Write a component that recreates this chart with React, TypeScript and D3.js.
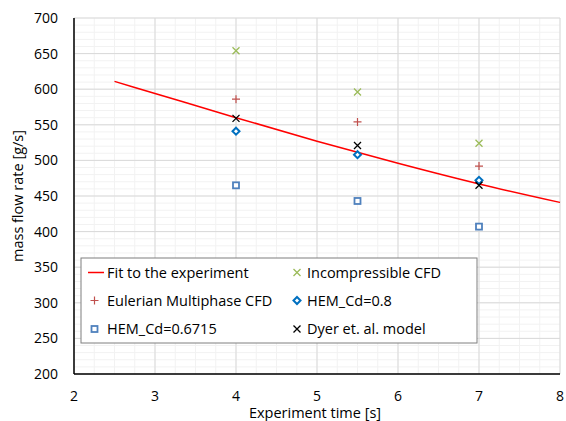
import React from 'react';
import * as d3 from 'd3';

const times = [4, 5.5, 7];
const incompressible = [654, 596, 524];
const eulerian = [586, 554, 492];
const hemCd08 = [541, 508, 472];
const hemCd06715 = [465, 443, 407];
const dyer = [559, 521, 465];

const fitX = [2.5, 3, 4, 5, 6, 7, 8];
const fitY = [611, 594, 560, 527, 496, 467, 441];

const xTicks = [2, 3, 4, 5, 6, 7, 8];
const yTicks = [200, 250, 300, 350, 400, 450, 500, 550, 600, 650, 700];

const W = 566;
const H = 421;
const margin = { top: 18, right: 6, bottom: 47, left: 74 };
const FONT = '"Open Sans", sans-serif';
const FS = 14.5;

function Cross({ x, y, color }: { x: number; y: number; color: string }) {
  const s = 3.5;
  return (
    <path d={`M${x - s},${y - s}L${x + s},${y + s}M${x - s},${y + s}L${x + s},${y - s}`}
      stroke={color} strokeWidth={1.3} fill="none" />
  );
}
function Plus({ x, y, color }: { x: number; y: number; color: string }) {
  const s = 4;
  return (
    <path d={`M${x - s},${y}L${x + s},${y}M${x},${y - s}L${x},${y + s}`}
      stroke={color} strokeWidth={1.2} fill="none" />
  );
}
function Diamond({ x, y, color }: { x: number; y: number; color: string }) {
  const s = 3.5;
  return (
    <path d={`M${x},${y - s}L${x + s},${y}L${x},${y + s}L${x - s},${y}Z`}
      stroke={color} strokeWidth={2} fill="#fff" />
  );
}
function Square({ x, y, color }: { x: number; y: number; color: string }) {
  const s = 3;
  return <rect x={x - s} y={y - s} width={2 * s} height={2 * s} stroke={color} strokeWidth={1.8} fill="#fff" />;
}

export default function App() {
  const x = d3.scaleLinear().domain([2, 8]).range([margin.left, W - margin.right]);
  const y = d3.scaleLinear().domain([200, 700]).range([H - margin.bottom, margin.top]);

  const minorX = d3.range(2, 8.001, 0.25);
  const minorY = d3.range(200, 700.001, 10);

  const line = d3.line<number>()
    .x((_, i) => x(fitX[i]))
    .y((d) => y(d))
    .curve(d3.curveMonotoneX);

  const series = [
    { vals: incompressible, M: Cross, color: '#9BBB59' },
    { vals: eulerian, M: Plus, color: '#C0504D' },
    { vals: hemCd08, M: Diamond, color: '#0070C0' },
    { vals: hemCd06715, M: Square, color: '#4F81BD' },
    { vals: dyer, M: Cross, color: '#000000' },
  ];

  const lg = { x: 81, y: 258, w: 396, h: 85 };
  const rows = [272.5, 300.5, 329];

  return (
    <svg width={W} height={H} style={{ position: 'absolute', left: 0, top: 0, fontFamily: FONT }}>
      <rect width={W} height={H} fill="#fff" />
      {minorX.map((v) => (
        <line key={'mx' + v} x1={x(v)} x2={x(v)} y1={y(200)} y2={y(700)} stroke="#F2F2F2" />
      ))}
      {minorY.map((v) => (
        <line key={'my' + v} x1={x(2)} x2={x(8)} y1={y(v)} y2={y(v)} stroke="#F2F2F2" />
      ))}
      {xTicks.map((v) => (
        <line key={'gx' + v} x1={x(v)} x2={x(v)} y1={y(200)} y2={y(700)} stroke="#D9D9D9" />
      ))}
      {yTicks.map((v) => (
        <line key={'gy' + v} x1={x(2)} x2={x(8)} y1={y(v)} y2={y(v)} stroke="#D9D9D9" />
      ))}
      <line x1={x(2)} x2={x(2)} y1={y(200)} y2={y(700)} stroke="#000" strokeWidth={1.5} />
      <line x1={x(2)} x2={x(8)} y1={y(200)} y2={y(200)} stroke="#000" strokeWidth={1.5} />

      {yTicks.map((v) => (
        <text key={'ty' + v} x={x(2) - 16} y={y(v)} dy="0.35em" textAnchor="end" fontSize={14} fill="#000">
          {v}
        </text>
      ))}
      {xTicks.map((v) => (
        <text key={'tx' + v} x={x(v)} y={396} dy="0.35em" textAnchor="middle" fontSize={14} fill="#000">
          {v}
        </text>
      ))}
      <text x={(x(2) + x(8)) / 2 - 2} y={413} dy="0.35em" textAnchor="middle" fontSize={FS}>
        Experiment time [s]
      </text>
      <text transform={`translate(18,${(y(200) + y(700)) / 2}) rotate(-90)`} dy="0.35em" textAnchor="middle" fontSize={FS}>
        mass flow rate [g/s]
      </text>

      <path d={line(fitY) ?? ''} fill="none" stroke="#FF0000" strokeWidth={1.5} />
      {series.map((s, si) =>
        s.vals.map((v, i) => <s.M key={si + '-' + i} x={x(times[i])} y={y(v)} color={s.color} />)
      )}

      <rect x={lg.x} y={lg.y} width={lg.w} height={lg.h} fill="#fff" stroke="#7F7F7F" />
      <line x1={88} x2={104} y1={rows[0]} y2={rows[0]} stroke="#FF0000" strokeWidth={1.5} />
      <text x={107} y={rows[0]} dy="0.35em" fontSize={FS}>Fit to the experiment</text>
      <Cross x={297} y={rows[0]} color="#9BBB59" />
      <text x={307} y={rows[0]} dy="0.35em" fontSize={FS}>Incompressible CFD</text>
      <Plus x={94.5} y={rows[1]} color="#C0504D" />
      <text x={107} y={rows[1]} dy="0.35em" fontSize={FS}>Eulerian Multiphase CFD</text>
      <Diamond x={297} y={rows[1]} color="#0070C0" />
      <text x={307} y={rows[1]} dy="0.35em" fontSize={FS}>HEM_Cd=0.8</text>
      <Square x={94.5} y={rows[2]} color="#4F81BD" />
      <text x={107} y={rows[2]} dy="0.35em" fontSize={FS}>HEM_Cd=0.6715</text>
      <Cross x={297} y={rows[2]} color="#000000" />
      <text x={307} y={rows[2]} dy="0.35em" fontSize={FS}>Dyer et. al. model</text>
    </svg>
  );
}
